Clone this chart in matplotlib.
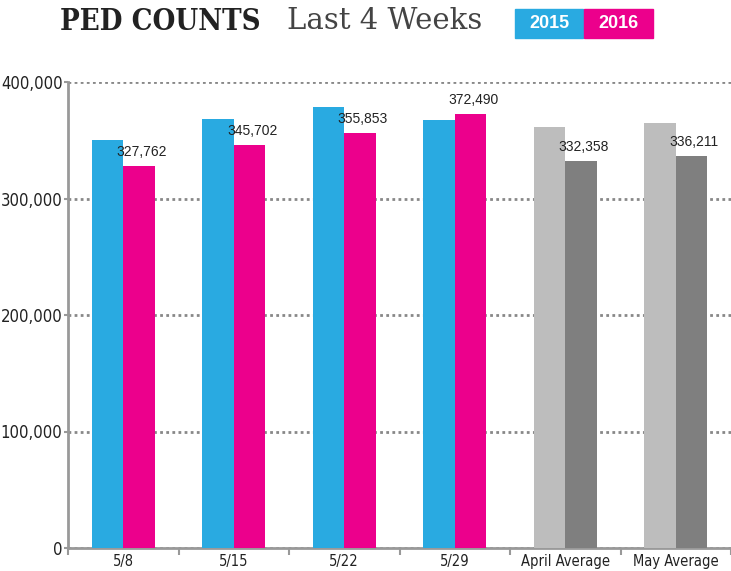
import matplotlib.pyplot as plt
import numpy as np

categories = ["5/8", "5/15", "5/22", "5/29", "April Average", "May Average"]
counts_2015 = [350200, 368200, 378500, 367400, 361600, 365100]
counts_2016 = [327762, 345702, 355853, 372490, 332358, 336211]

blue, pink = "#29aae1", "#ec008c"
light_gray, dark_gray = "#bdbdbd", "#7f7f7f"
c15 = [blue] * 4 + [light_gray] * 2
c16 = [pink] * 4 + [dark_gray] * 2

fig = plt.figure(figsize=(7.31, 5.71), dpi=100)
ax = fig.add_axes([68 / 731, 23 / 571, 1 - 68 / 731, (548 - 82) / 571])

x = np.arange(len(categories))
w = 0.285
ax.bar(x - w / 2, counts_2015, w, color=c15, zorder=3)
bars16 = ax.bar(x + w / 2, counts_2016, w, color=c16, zorder=3)

# value labels on 2016 bars
for b, v in zip(bars16, counts_2016):
    ax.annotate(f"{v:,}", (b.get_x() + b.get_width() / 2, v), xytext=(2, 5),
                textcoords="offset points", ha="center", va="bottom",
                fontsize=10, family="Liberation Sans", color="#222222", zorder=4)

ax.set_xlim(-0.5, 5.5)
ax.set_ylim(0, 400000)
yt = [0, 100000, 200000, 300000, 400000]
ax.set_yticks(yt)
ax.set_yticklabels([f"{t:,}" for t in yt], family="DejaVu Sans",
                   fontstretch="condensed", fontsize=12, color="#222222")
ax.set_xticks(x)
ax.set_xticklabels(categories, family="DejaVu Sans", fontstretch="condensed",
                   fontsize=10.5, color="#222222")
ax.set_xticks(np.arange(-0.5, 6, 1), minor=True)
ax.tick_params(axis="x", which="major", length=0, pad=4)
ax.tick_params(axis="x", which="minor", length=5, width=1.5, color="#999999")
ax.tick_params(axis="y", length=3, width=1.5, color="#999999", pad=1)

for s in ["top", "right"]:
    ax.spines[s].set_visible(False)
for s in ["left", "bottom"]:
    ax.spines[s].set_color("#999999")
    ax.spines[s].set_linewidth(2)

ax.yaxis.grid(True, linestyle=(0, (1, 1.2)), color="#888888", linewidth=2, zorder=0)
ax.set_axisbelow(True)

# title and legend boxes
fig.text(60 / 731, 1 - 21 / 571, "PED COUNTS", fontsize=21, fontweight="heavy",
         family="DejaVu Serif", fontstretch="condensed", color="#222222",
         va="center", ha="left")
fig.text(287 / 731, 1 - 21 / 571, "Last 4 Weeks", fontsize=21, fontweight="light",
         family="DejaVu Serif", color="#444444", va="center", ha="left")
fig.patches.append(plt.Rectangle((515 / 731, 1 - 38 / 571), 68 / 731, 29 / 571,
                                 transform=fig.transFigure, color=blue))
fig.patches.append(plt.Rectangle((584 / 731, 1 - 38 / 571), 69 / 731, 29 / 571,
                                 transform=fig.transFigure, color=pink))
fig.text(549 / 731, 1 - 23.5 / 571, "2015", fontsize=13, fontweight="bold",
         color="white", ha="center", va="center", family="Liberation Sans")
fig.text(618.5 / 731, 1 - 23.5 / 571, "2016", fontsize=13, fontweight="bold",
         color="white", ha="center", va="center", family="Liberation Sans")

fig.savefig("out.png", dpi=100)
